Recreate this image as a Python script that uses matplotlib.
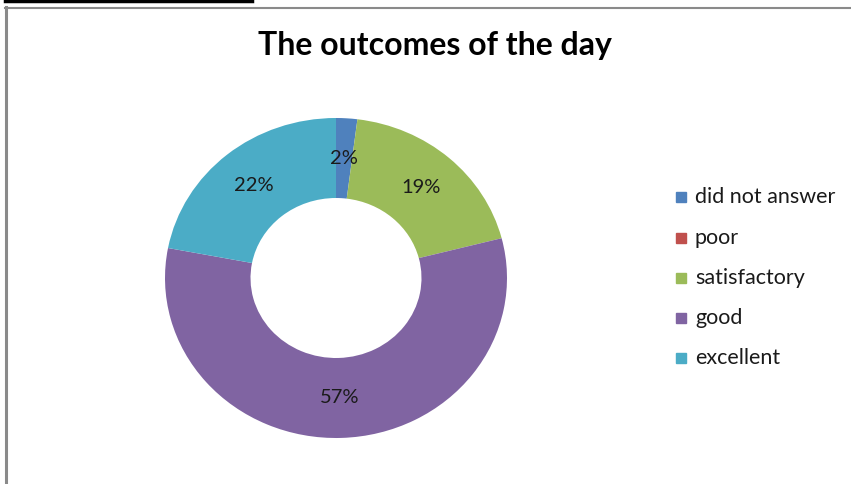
import matplotlib.pyplot as plt
from matplotlib.lines import Line2D

labels = ["did not answer", "poor", "satisfactory", "good", "excellent"]
values = [2, 0, 19, 57, 22]
colors = ["#4F81BD", "#C0504D", "#9BBB59", "#8064A2", "#4BACC6"]

plt.rcParams['font.family'] = ['Lato', 'DejaVu Sans']

fig = plt.figure(figsize=(8.51, 4.84), dpi=100)
W, H = 851, 484

# donut, slightly wider than tall like the original
cx, cy, rx, ry = 336, 278, 171, 160
ax = fig.add_axes([(cx - rx) / W, 1 - (cy + ry) / H, 2 * rx / W, 2 * ry / H])
wedges, texts, autotexts = ax.pie(
    values, colors=colors, startangle=90, counterclock=False,
    autopct=lambda p: f"{p:.0f}%" if p > 0 else "", pctdistance=0.75,
    wedgeprops=dict(width=0.5, linewidth=0), textprops=dict(fontsize=14.5, color="#1a1a1a"))
ax.set_xlim(-1, 1)
ax.set_ylim(-1, 1)
ax.set_aspect('auto')

fig.text(435 / W, 1 - 45 / H, "The outcomes of the day", ha="center", va="center",
         fontsize=23, fontweight="bold", color="black")

# legend
ly = [197, 238, 278, 318, 358]
for lab, col, y in zip(labels, colors, ly):
    fig.patches.append(plt.Rectangle((676 / W, 1 - (y + 5) / H), 10 / W, 10 / H,
                                     transform=fig.transFigure, color=col))
    fig.text(695 / W, 1 - y / H, lab, ha="left", va="center", fontsize=15.5, color="#1a1a1a")

# frame lines and top bar
fig.add_artist(Line2D([6 / W, 6 / W], [0, 1 - 7 / H], color="#8a8a8a", lw=2.2))
fig.add_artist(Line2D([5 / W, 1], [1 - 7.5 / H, 1 - 7.5 / H], color="#8a8a8a", lw=1.5))
fig.add_artist(Line2D([5 / W, 252 / W], [1 - 1 / H, 1 - 1 / H], color="black", lw=2.5))

fig.savefig("out.png", dpi=100)
